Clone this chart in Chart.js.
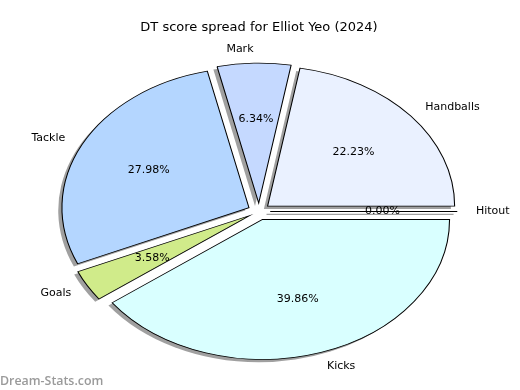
<!DOCTYPE html>
<html>
<head>
<meta charset="utf-8">
<script src="https://cdn.jsdelivr.net/npm/chart.js@4.4.1/dist/chart.umd.min.js"></script>
<style>
  html, body { margin: 0; padding: 0; background: #fff; }
  #wrap { width: 520px; height: 390px; }
</style>
</head>
<body>
<div id="wrap"><canvas id="pieChart" width="520" height="390"></canvas></div>
<script>
// slices listed clockwise on screen starting from the right (3 o'clock)
const categories = ["Hitout", "Kicks", "Goals", "Tackle", "Mark", "Handballs"];
const percentValues = [0.0, 39.86, 3.58, 27.98, 6.34, 22.23];
const sliceColors = ["#f0f0ff", "#d9ffff", "#d0eb8a", "#b4d6ff", "#c5d9ff", "#eaf1ff"];
const chartTitle = "DT score spread for Elliot Yeo (2024)";
const watermark = "Dream-Stats.com";

const RADIUS = 140;
const STRETCH_X = 1.336; // the original pie is an ellipse
const EXPLODE = 0.06 * RADIUS;
const LABEL_FONT = '11px "DejaVu Sans"';

// push every wedge out from the centre, and draw empty wedges as a single edge
const baseArcDraw = Chart.ArcElement.prototype.draw;
Chart.ArcElement.prototype.draw = function (ctx) {
  const mid = (this.startAngle + this.endAngle) / 2;
  ctx.save();
  ctx.translate(Math.cos(mid) * EXPLODE, Math.sin(mid) * EXPLODE);
  if (this.circumference === 0) {
    ctx.beginPath();
    ctx.moveTo(this.x, this.y);
    ctx.lineTo(this.x + Math.cos(mid) * this.outerRadius, this.y + Math.sin(mid) * this.outerRadius);
    ctx.strokeStyle = this.options.borderColor;
    ctx.lineWidth = this.options.borderWidth;
    ctx.stroke();
  } else {
    baseArcDraw.call(this, ctx);
  }
  ctx.restore();
};

const stretchPlugin = {
  id: "stretch",
  beforeDatasetsDraw(chart) {
    const ctx = chart.ctx;
    const arcs = chart.getDatasetMeta(0).data;
    const cx = arcs[0].x, cy = arcs[0].y;
    ctx.save();
    ctx.translate(cx, cy);
    ctx.scale(STRETCH_X, 1);
    ctx.translate(-cx, -cy);

    // drop shadows under all wedges
    ctx.save();
    ctx.translate(-3.7 / STRETCH_X, 2.8);
    ctx.fillStyle = "#a0a0a0";
    ctx.strokeStyle = "#a0a0a0";
    ctx.lineWidth = 1.2;
    arcs.forEach((a) => {
      const mid = (a.startAngle + a.endAngle) / 2;
      const ox = a.x + Math.cos(mid) * EXPLODE, oy = a.y + Math.sin(mid) * EXPLODE;
      ctx.beginPath();
      ctx.moveTo(ox, oy);
      if (a.circumference === 0) {
        ctx.lineTo(ox + Math.cos(mid) * a.outerRadius, oy + Math.sin(mid) * a.outerRadius);
        ctx.stroke();
      } else {
        ctx.arc(ox, oy, a.outerRadius, a.startAngle, a.endAngle);
        ctx.closePath();
        ctx.fill();
      }
    });
    ctx.restore();
  },
  afterDatasetsDraw(chart) {
    chart.ctx.restore();
  },
  afterDraw(chart) {
    const ctx = chart.ctx;
    const arcs = chart.getDatasetMeta(0).data;
    ctx.save();
    ctx.font = LABEL_FONT;
    ctx.fillStyle = "#000";
    ctx.textBaseline = "middle";
    arcs.forEach((a, i) => {
      const mid = (a.startAngle + a.endAngle) / 2;
      const c = Math.cos(mid), s = Math.sin(mid);
      const lr = EXPLODE + 1.1 * a.outerRadius;
      ctx.textAlign = c > 1e-9 ? "left" : "right";
      ctx.fillText(categories[i], a.x + c * lr * STRETCH_X, a.y + s * lr);
      const pr = EXPLODE + 0.6 * a.outerRadius;
      ctx.textAlign = "center";
      ctx.fillText(percentValues[i].toFixed(2) + "%", a.x + c * pr * STRETCH_X, a.y + s * pr);
    });
    ctx.font = '600 12.4px "Open Sans"';
    ctx.fillStyle = "#9a9a9a";
    ctx.textAlign = "left";
    ctx.fillText(watermark, 0, 381);
    ctx.restore();
  },
};

new Chart(document.getElementById("pieChart"), {
  type: "pie",
  data: {
    labels: categories,
    datasets: [
      {
        data: percentValues,
        backgroundColor: sliceColors,
        borderColor: "#000",
        borderWidth: 0.8,
        borderJoinStyle: "miter",
      },
    ],
  },
  options: {
    responsive: false,
    animation: false,
    rotation: 90,
    radius: RADIUS,
    layout: { padding: { top: 0, right: 2, bottom: 2.1, left: 0 } },
    plugins: {
      legend: { display: false },
      tooltip: { enabled: false },
      title: {
        display: true,
        text: chartTitle,
        color: "#000",
        font: { family: "DejaVu Sans", size: 13, weight: "normal" },
        padding: { top: 19.5, bottom: 0 },
      },
    },
  },
  plugins: [stretchPlugin],
});
</script>
</body>
</html>
